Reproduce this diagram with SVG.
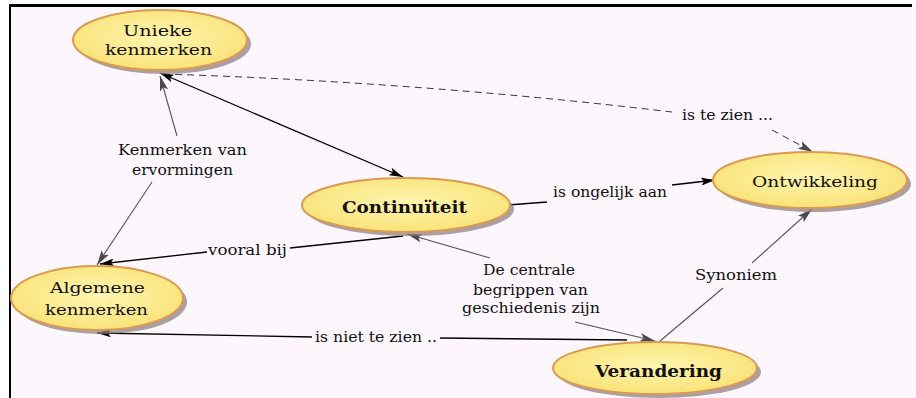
<svg xmlns="http://www.w3.org/2000/svg" width="916" height="398" viewBox="0 0 916 398">
<style>
.sh{fill:#8f8282;opacity:0.75}
.nd{fill:url(#yg);stroke:#d99a52;stroke-width:2}
.nt{font-family:"DejaVu Serif","Liberation Serif",serif;font-size:15px;fill:#111;text-anchor:middle}
.b{font-weight:bold;font-size:16px}
.lb{font-family:"DejaVu Serif","Liberation Serif",serif;font-size:14px;fill:#111;text-anchor:middle}
.k{fill:none;stroke:#000;stroke-width:1.3}
.g{fill:none;stroke:#555;stroke-width:1.1}
.d{fill:none;stroke:#333;stroke-width:1;stroke-dasharray:7,5}
</style>
<defs>
<radialGradient id="yg" cx="0.5" cy="0.45" r="0.6">
<stop offset="0" stop-color="#fff5b0"/>
<stop offset="1" stop-color="#f9e173"/>
</radialGradient>
<marker id="ak" viewBox="0 0 14 8" refX="14" refY="4" markerWidth="14" markerHeight="8" markerUnits="userSpaceOnUse" orient="auto-start-reverse">
<path d="M0,0 L14,4 L0,8 L3,4 Z" fill="#000"/>
</marker>
<marker id="ag" viewBox="0 0 14 8" refX="14" refY="4" markerWidth="15" markerHeight="9" markerUnits="userSpaceOnUse" orient="auto-start-reverse">
<path d="M0,0 L14,4 L0,8 L3,4 Z" fill="#4a4a4a"/>
</marker>
</defs>
<rect x="0" y="0" width="916" height="398" fill="#ffffff"/>
<rect x="10" y="6" width="906" height="392" fill="#fdf6fd"/>
<line x1="9" y1="5.5" x2="912" y2="5.5" stroke="#000" stroke-width="3"/>
<line x1="10" y1="4" x2="10" y2="398" stroke="#000" stroke-width="2"/>
<g id="connectors">
<path class="k" d="M160,73 L403,177" marker-start="url(#ak)" marker-end="url(#ak)"/>
<path class="g" d="M177,136 L160,76" marker-end="url(#ag)"/>
<path class="g" d="M152,182 L97,265" marker-end="url(#ag)"/>
<path class="d" d="M163,74 Q420,82 672,112"/>
<path class="d" d="M772,130 L813,152" marker-end="url(#ag)"/>
<path class="k" d="M403,236 L290,248"/>
<path class="k" d="M207,252 L100,264" marker-end="url(#ak)"/>
<path class="k" d="M508,205 L547,202"/>
<path class="k" d="M672,185 L715,180" marker-end="url(#ak)"/>
<path class="g" d="M490,258 L407,234" marker-end="url(#ag)"/>
<path class="g" d="M575,322 L655,341" marker-end="url(#ag)"/>
<path class="k" d="M627,340 L440,338"/>
<path class="k" d="M312,337 L97,333" marker-end="url(#ak)"/>
<path class="g" d="M660,341 L723,288"/>
<path class="g" d="M752,263 L812,209" marker-end="url(#ag)"/>
<text class="lb" x="727.5" y="120" textLength="91" lengthAdjust="spacingAndGlyphs">is te zien ...</text>
<text class="lb" x="182.5" y="155" textLength="129" lengthAdjust="spacingAndGlyphs">Kenmerken van</text>
<text class="lb" x="182.5" y="175" textLength="101" lengthAdjust="spacingAndGlyphs">ervormingen</text>
<text class="lb" x="247.5" y="255" textLength="79" lengthAdjust="spacingAndGlyphs">vooral bij</text>
<text class="lb" x="376" y="342" textLength="122" lengthAdjust="spacingAndGlyphs">is niet te zien ..</text>
<text class="lb" x="610" y="197" textLength="114" lengthAdjust="spacingAndGlyphs">is ongelijk aan</text>
<text class="lb" x="736" y="280" textLength="82" lengthAdjust="spacingAndGlyphs">Synoniem</text>
<text class="lb" x="529" y="275" textLength="92" lengthAdjust="spacingAndGlyphs">De centrale</text>
<text class="lb" x="530.5" y="295" textLength="115" lengthAdjust="spacingAndGlyphs">begrippen van</text>
<text class="lb" x="531" y="313" textLength="138" lengthAdjust="spacingAndGlyphs">geschiedenis zijn</text>
</g>
<g id="node-unieke">
<ellipse class="sh" cx="164" cy="44" rx="87" ry="30"/>
<ellipse class="nd" cx="160" cy="40" rx="87" ry="30"/>
<text class="nt" x="157.5" y="36" textLength="69" lengthAdjust="spacingAndGlyphs">Unieke</text>
<text class="nt" x="158.5" y="55" textLength="107" lengthAdjust="spacingAndGlyphs">kenmerken</text>
</g>
<g id="node-continuiteit">
<ellipse class="sh" cx="410" cy="209" rx="104" ry="27"/>
<ellipse class="nd" cx="406" cy="205" rx="104" ry="27"/>
<text class="nt b" x="404.5" y="213" textLength="125" lengthAdjust="spacingAndGlyphs">Continuïteit</text>
</g>
<g id="node-algemene">
<ellipse class="sh" cx="101" cy="302" rx="86" ry="32"/>
<ellipse class="nd" cx="97" cy="298" rx="86" ry="32"/>
<text class="nt" x="97.5" y="293" textLength="95" lengthAdjust="spacingAndGlyphs">Algemene</text>
<text class="nt" x="96.5" y="315" textLength="103" lengthAdjust="spacingAndGlyphs">kenmerken</text>
</g>
<g id="node-ontwikkeling">
<ellipse class="sh" cx="814" cy="184" rx="97" ry="28"/>
<ellipse class="nd" cx="810" cy="180" rx="97" ry="28"/>
<text class="nt" x="815" y="187" textLength="126" lengthAdjust="spacingAndGlyphs">Ontwikkeling</text>
</g>
<g id="node-verandering">
<ellipse class="sh" cx="659" cy="372" rx="102" ry="26"/>
<ellipse class="nd" cx="655" cy="368" rx="102" ry="26"/>
<text class="nt b" x="658.5" y="377" textLength="127" lengthAdjust="spacingAndGlyphs">Verandering</text>
</g>
</svg>
